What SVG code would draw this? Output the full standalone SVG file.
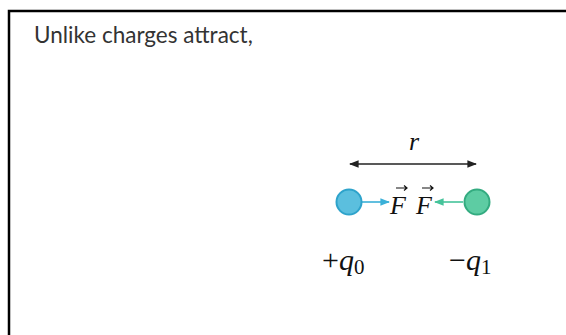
<svg xmlns="http://www.w3.org/2000/svg" width="566" height="335" viewBox="0 0 566 335">
<defs>
<style>
.title{font-family:Lato,"Liberation Sans",sans-serif;font-size:22.5px;fill:#333}
.math{font-family:"Liberation Serif","DejaVu Serif",serif;fill:#111}
.it{font-style:italic}
</style>
<marker id="hk" viewBox="0 0 10 10" refX="9" refY="5" markerWidth="6" markerHeight="6" orient="auto-start-reverse"><path d="M0,1 L10,5 L0,9 Z" fill="#222"/></marker>
<marker id="hb" viewBox="0 0 10 10" refX="9" refY="5" markerWidth="6" markerHeight="6" orient="auto"><path d="M0,1 L10,5 L0,9 Z" fill="#3ab0d8"/></marker>
<marker id="hg" viewBox="0 0 10 10" refX="9" refY="5" markerWidth="6" markerHeight="6" orient="auto"><path d="M0,1 L10,5 L0,9 Z" fill="#45c39a"/></marker>
</defs>
<rect width="566" height="335" fill="#fff"/>
<path d="M9,335 V11 H566" fill="none" stroke="#000" stroke-width="2.5"/>
<text class="title" x="34" y="43">Unlike charges attract,</text>
<g id="connectors">
<line x1="350" y1="164" x2="476" y2="164" stroke="#222" stroke-width="1.6" marker-start="url(#hk)" marker-end="url(#hk)"/>
<line x1="362" y1="202" x2="389" y2="202" stroke="#3ab0d8" stroke-width="1.6" marker-end="url(#hb)"/>
<line x1="463" y1="202" x2="435" y2="202" stroke="#45c39a" stroke-width="1.6" marker-end="url(#hg)"/>
</g>
<g id="r-label"><text class="math it" x="409" y="150" font-size="26">r</text></g>
<g id="charge-q0">
<circle cx="349" cy="202" r="12.5" fill="#5bbfde" stroke="#2ea3cb" stroke-width="2"/>
<text class="math" x="322" y="270" font-size="30">+<tspan class="it">q</tspan><tspan font-size="21" dy="4">0</tspan></text>
</g>
<g id="charge-q1">
<circle cx="477" cy="202" r="12.5" fill="#5dcca3" stroke="#33ab80" stroke-width="2"/>
<text class="math" x="449" y="270" font-size="30">−<tspan class="it">q</tspan><tspan font-size="21" dy="4">1</tspan></text>
</g>
<g id="force1">
<text class="math it" x="390" y="214" font-size="26">F</text>
<path d="M396,188 H407 M404,185.5 L407,188 L404,190.5" fill="none" stroke="#111" stroke-width="1.2"/>
</g>
<g id="force2">
<text class="math it" x="416" y="214" font-size="26">F</text>
<path d="M422,188 H433 M430,185.5 L433,188 L430,190.5" fill="none" stroke="#111" stroke-width="1.2"/>
</g>
</svg>
